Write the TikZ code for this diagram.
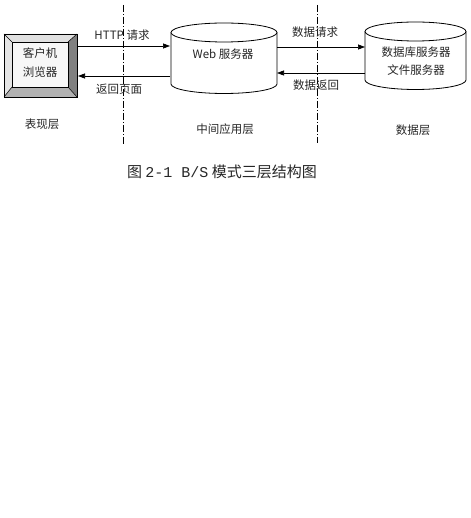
\documentclass[tikz,border=0pt]{standalone}
\usepackage{fontspec}
\setmainfont{Noto Sans CJK SC}
\setmonofont{Liberation Mono}
\usetikzlibrary{arrows.meta}
\begin{document}
\begin{tikzpicture}[x=1pt,y=-1pt,
  lbl/.style={font=\fontsize{11.5}{12}\selectfont, text=black!85, inner sep=0pt},
  arr/.style={-{Triangle[length=7pt,width=5pt]}, line width=0.7pt},
  divider/.style={line width=0.6pt, dash pattern=on 7pt off 2pt on 1pt off 2pt},
  cyl/.style={draw=black, line width=0.8pt, fill=white}]
\useasboundingbox (0,0) rectangle (470,518);
% client bevel box
\coordinate (o1) at (4,34); \coordinate (o2) at (77,34);
\coordinate (o3) at (77,97); \coordinate (o4) at (4,97);
\coordinate (i1) at (12,42); \coordinate (i2) at (68,42);
\coordinate (i3) at (68,87); \coordinate (i4) at (12,87);
\fill[black!12] (o1) -- (o2) -- (i2) -- (i1) -- cycle;
\fill[black!10] (o1) -- (i1) -- (i4) -- (o4) -- cycle;
\fill[black!50] (o2) -- (o3) -- (i3) -- (i2) -- cycle;
\fill[black!30] (o4) -- (i4) -- (i3) -- (o3) -- cycle;
\fill[black!3] (i1) rectangle (i3);
\draw[line width=0.7pt] (o1) rectangle (o3);
\draw[line width=0.5pt] (i1) rectangle (i3);
\draw[line width=0.5pt] (o1) -- (i1) (o2) -- (i2) (o3) -- (i3) (o4) -- (i4);
\node[lbl] (c1) at (40,53) {客户机};
\node[lbl] (c2) at (40,72) {浏览器};
% web cylinder
\draw[cyl] (171,32.5) -- (171,84) arc[start angle=180,end angle=0,x radius=53,y radius=9.5] -- (277,32.5);
\draw[cyl] (224,32.5) ellipse[x radius=53,y radius=9.5];
\node[lbl] (web) at (223,54) {Web 服务器};
% db cylinder
\draw[cyl] (365,31.5) -- (365,80) arc[start angle=180,end angle=0,x radius=50.5,y radius=9.5] -- (466,31.5);
\draw[cyl] (415.5,31.5) ellipse[x radius=50.5,y radius=9.5];
\node[lbl] (db1) at (416,52) {数据库服务器};
\node[lbl] (db2) at (416,70) {文件服务器};
% connector endpoints
\coordinate (cR1) at (77,46); \coordinate (wL1) at (170,46);
\coordinate (cR2) at (78,76); \coordinate (wL2) at (170,76);
\coordinate (wR1) at (277,47); \coordinate (dL1) at (365,47);
\coordinate (wR2) at (277,73); \coordinate (dL2) at (365,73);
\draw[arr] (cR1) -- (wL1);
\draw[arr] (wL2) -- (cR2);
\draw[arr] (wR1) -- (dL1);
\draw[arr] (dL2) -- (wR2);
% dividers
\coordinate (d1t) at (123,5); \coordinate (d1b) at (123,145);
\coordinate (d2t) at (317,5); \coordinate (d2b) at (317,143);
\draw[divider] (d1t) -- (d1b);
\draw[divider] (d2t) -- (d2b);
% arrow labels
\node[lbl] (l1) at (122,35) {HTTP 请求};
\node[lbl] (l2) at (119,89) {返回页面};
\node[lbl] (l3) at (315,32) {数据请求};
\node[lbl] (l4) at (316,85) {数据返回};
% layer labels
\node[lbl] (t1) at (42,124) {表现层};
\node[lbl] (t2) at (225,129) {中间应用层};
\node[lbl] (t3) at (413,130) {数据层};
% caption
\node[inner sep=0pt, font=\fontsize{15}{16}\selectfont, text=black!85] (cap) at (222,172) {图 {\ttfamily 2-1 B/S} 模式三层结构图};
\end{tikzpicture}
\end{document}
